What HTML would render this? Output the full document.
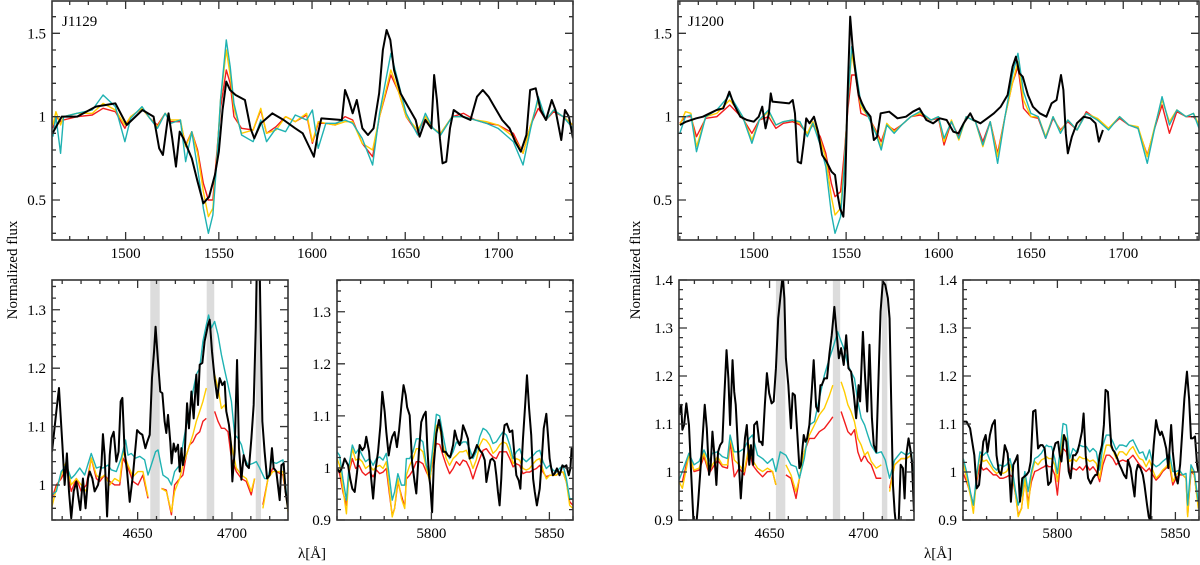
<!DOCTYPE html>
<html><head><meta charset="utf-8"><style>
html,body{margin:0;padding:0;background:#fff;}
svg{display:block;font-family:"Liberation Serif",serif;}
</style></head><body>
<svg id="fig" width="1200" height="565" viewBox="0 0 1200 565" xmlns="http://www.w3.org/2000/svg">
<text x="0" y="0" transform="translate(17,270) rotate(-90)" text-anchor="middle" font-size="15">Normalized flux</text>
<text x="0" y="0" transform="translate(640,270) rotate(-90)" text-anchor="middle" font-size="15">Normalized flux</text>
<text x="312" y="558" text-anchor="middle" font-size="15">λ[Å]</text>
<text x="938" y="558" text-anchor="middle" font-size="15">λ[Å]</text>
</svg>
<script>
// ---------- data ----------
const uvXTicks=[1500,1550,1600,1650,1700];
const uvYTicks=[0.5,1,1.5];
const heXTicks=[4650,4700];
const naXTicks=[5800,5850];
const opt1129YTicks=[1,1.1,1.2,1.3];
const opt1129RYTicks=[0.9,1,1.1,1.2,1.3];
const opt1200YTicks=[0.9,1,1.1,1.2,1.3,1.4];

// J1129 UV
const uv1129BlackLam=[1461,1465.7,1474,1484,1494.5,1500.6,1509,1515,1518,1520,1523,1525,1527,1529,1531,1532.5,1535.5,1538.6,1541.7,1544.8,1547.9,1550,1552,1554,1556,1559,1564,1567,1569,1572.5,1578.7,1584.8,1591,1595,1598,1601,1603,1605,1616,1617.7,1619.7,1621.8,1624,1627,1630,1633,1636,1638,1640,1642,1644,1647.5,1651.5,1655.6,1657.7,1660.8,1664,1665.5,1667,1668.6,1670,1672,1674,1676,1681,1685,1688.5,1691.6,1694.7,1697.8,1702,1706,1709,1712,1715,1717,1720,1722.6,1725.5,1728.6,1730.6,1733.7,1735.7,1737.8,1740];
const uv1129BlackFlux=[0.905,1.0,1.0,1.06,1.08,0.95,1.04,1.0,0.81,0.77,1.02,0.87,0.70,0.91,0.87,0.83,0.75,0.61,0.48,0.52,0.65,0.79,1.04,1.21,1.16,1.13,1.10,0.93,0.87,0.96,1.02,0.98,0.93,0.90,0.83,0.76,0.89,0.99,0.98,1.16,1.10,1.02,1.10,0.93,0.89,0.93,1.14,1.40,1.52,1.46,1.28,1.14,1.06,0.98,0.88,0.98,0.93,1.25,1.10,0.87,0.72,0.73,0.93,1.04,1.0,0.98,1.12,1.16,1.12,1.06,0.98,0.93,0.85,0.79,0.89,1.16,1.17,1.04,0.98,1.10,1.04,0.86,1.04,1.0,0.87];
const uv1129ModelLam=[1461,1462.6,1465.1,1466.7,1473.9,1482.1,1487.9,1494.5,1499.6,1502.7,1508.8,1513,1517.1,1521.2,1524.2,1529.4,1532.2,1535.5,1538.6,1541.7,1544.4,1546.8,1548.9,1550.9,1554,1556.1,1558.1,1562.2,1568.4,1572.5,1575.6,1580.7,1585.8,1591,1597.1,1600.2,1603.3,1607.4,1612.5,1617.7,1621.8,1626.9,1632.5,1636.2,1642.3,1646.4,1650.5,1656.7,1660.8,1664.9,1669,1675.2,1681.3,1687.5,1693.6,1699.8,1708,1713.2,1717.3,1721.4,1725.5,1729.6,1734.7,1740];
const uv1129Red=[0.93,1.0,0.97,0.98,1.0,1.01,1.05,1.03,0.93,1.0,1.05,0.99,0.95,1.02,0.97,0.97,0.83,0.91,0.8,0.6,0.5,0.5,0.78,1.05,1.28,1.2,1.0,0.93,0.92,1.04,0.9,0.94,1.0,0.97,1.01,0.84,0.96,0.96,0.95,1.0,0.98,0.84,0.76,1.0,1.25,1.15,1.0,0.9,1.0,0.93,0.9,1.0,1.02,0.98,0.96,0.95,0.9,0.78,0.95,1.05,0.98,1.03,1.0,0.95];
const uv1129Yellow=[0.95,1.03,0.95,1.0,1.02,1.02,1.08,1.04,0.95,1.0,1.05,0.99,0.94,1.02,0.98,0.98,0.82,0.91,0.78,0.55,0.40,0.45,0.75,1.1,1.4,1.25,1.05,0.9,0.92,1.05,0.9,0.92,1.0,0.97,1.02,0.85,0.97,0.96,0.95,0.97,0.97,0.84,0.80,1.0,1.28,1.15,1.0,0.92,1.0,0.93,0.9,1.0,1.0,0.98,0.97,0.95,0.88,0.78,0.95,1.1,0.98,1.04,1.0,0.95];
const uv1129Cyan=[0.88,1.0,0.78,1.0,1.02,1.04,1.13,1.06,0.85,0.99,1.06,0.99,0.93,1.02,0.96,0.98,0.73,0.91,0.69,0.45,0.30,0.41,0.73,1.1,1.46,1.3,1.08,0.89,0.85,0.98,0.85,0.93,0.91,1.01,0.98,1.04,0.81,0.96,0.96,0.98,0.96,0.87,0.71,1.02,1.38,1.2,1.02,0.89,1.02,0.93,0.89,1.0,1.0,0.98,0.96,0.93,0.85,0.71,0.93,1.12,0.98,1.04,1.0,0.93];

// J1200 UV
const uv1200BlackLam=[1460,1463.4,1468.9,1472.5,1476.2,1479.9,1483.5,1486.8,1489,1492.7,1496.3,1500,1502.7,1504.6,1506.4,1508.2,1509.2,1510.1,1519.2,1521.1,1522.3,1523.8,1525.6,1527.1,1528.4,1530.2,1532.6,1534.8,1537,1539.4,1542.1,1544,1545.4,1546.7,1548.5,1549.5,1550.7,1552.2,1553.5,1555,1556.8,1558.6,1560.4,1563.2,1565,1566.8,1568.7,1573.3,1577.8,1582.4,1586.1,1589.7,1593.4,1597.1,1600.7,1604.4,1608,1610.8,1613.6,1617.2,1619,1622.7,1626.4,1630,1633.7,1637.4,1640.1,1641.9,1643.8,1645.6,1648.4,1651.1,1654.8,1658.4,1661.2,1663.9,1666.3,1667.6,1668.9,1670,1672.2,1674.9,1678.6,1682.2,1685,1686.8,1689];
const uv1200BlackFlux=[0.95,0.97,0.99,1.0,1.02,1.04,1.05,1.15,1.08,1.0,0.98,0.97,1.0,1.06,0.93,1.02,1.14,1.09,1.08,1.10,1.02,0.73,0.72,0.85,0.99,0.96,1.0,0.91,0.77,0.73,0.67,0.65,0.53,0.45,0.40,0.59,1.10,1.60,1.42,1.27,1.13,1.08,1.04,1.0,0.86,0.88,1.02,1.03,0.99,1.0,1.03,1.05,0.98,0.96,0.99,0.98,0.91,0.90,0.96,1.02,0.98,0.96,0.99,1.02,1.06,1.13,1.30,1.36,1.26,1.24,1.13,1.06,1.02,1.0,1.08,1.10,1.25,1.16,0.90,0.78,0.88,0.96,1.0,0.99,0.96,0.85,0.92];
const uv1200ModelLam=[1460,1463,1466,1469,1474,1480,1487,1494,1499,1503,1508,1512,1516,1521,1525,1529,1532,1536,1539,1542,1544,1547,1549,1551,1553,1555,1558,1562,1566,1569,1572,1576,1580,1585,1590,1596,1600,1603,1607,1611,1615,1620,1624,1628,1632,1636,1640,1643,1646,1650,1654,1658,1662,1666,1670,1675,1680,1686,1692,1698,1703,1708,1713,1717,1721,1725,1729,1734,1738,1741];
const uv1200Red=[0.96,1.0,1.0,0.88,0.99,1.0,1.07,0.99,0.9,0.98,1.0,0.93,0.96,0.97,0.95,0.9,0.95,0.88,0.78,0.6,0.52,0.55,0.78,1.05,1.25,1.25,1.02,1.0,0.92,0.85,0.95,0.92,0.95,1.0,1.01,0.98,0.99,0.83,0.97,0.88,1.0,0.97,0.85,0.97,0.78,1.0,1.2,1.3,1.05,1.0,0.99,0.87,0.99,0.92,0.97,0.92,1.03,0.98,0.93,0.99,0.95,0.93,0.77,0.93,1.07,0.9,1.03,1.0,1.0,0.96];
const uv1200Yellow=[0.95,1.03,1.02,0.82,1.0,1.02,1.1,1.0,0.86,0.98,1.03,0.95,0.97,0.98,0.96,0.9,0.97,0.86,0.75,0.52,0.41,0.45,0.72,1.1,1.38,1.26,1.06,1.0,0.91,0.82,0.96,0.91,0.95,1.0,1.02,0.98,1.0,0.85,0.98,0.86,1.0,0.97,0.82,0.97,0.76,1.0,1.2,1.33,1.1,1.0,1.0,0.88,1.0,0.91,0.98,0.92,1.02,0.99,0.93,1.0,0.95,0.94,0.76,0.94,1.1,0.97,1.04,1.0,1.02,0.95];
const uv1200Cyan=[0.9,1.0,1.01,0.79,1.0,1.04,1.13,1.0,0.84,0.98,1.04,0.95,0.97,0.98,0.97,0.88,0.96,0.83,0.7,0.42,0.3,0.4,0.7,1.1,1.42,1.3,1.08,1.0,0.9,0.8,0.95,0.9,0.95,1.0,1.03,0.98,1.0,0.87,0.97,0.87,1.0,0.97,0.83,0.97,0.72,1.0,1.25,1.38,1.15,1.02,1.0,0.87,1.0,0.9,0.98,0.92,1.02,0.98,0.92,1.0,0.95,0.93,0.72,0.93,1.12,0.95,1.04,1.0,1.02,0.93];

// J1129 He II region
const he1129Bands=[[4656.7,4661.7],[4686.6,4690.6],[4712.6,4715.4]];
const he1129BlackLam=[4604.6,4606.9,4608.3,4610.1,4611.3,4612.5,4613.6,4614.8,4616.1,4617.5,4618.4,4619.6,4621.0,4622.4,4623.7,4624.6,4626.0,4627.2,4629.0,4630.8,4631.6,4632.5,4633.8,4635.2,4636.0,4637.3,4638.7,4639.9,4641.0,4641.9,4643.1,4644.4,4645.8,4647.5,4649.7,4651.1,4652.5,4654.1,4655.1,4656.4,4657.6,4658.7,4659.5,4660.8,4662.0,4663.1,4664.3,4665.2,4666.1,4667.3,4668.0,4669.1,4670.1,4671.4,4672.3,4673.2,4674.0,4674.9,4676.2,4677.2,4678.5,4679.7,4681.1,4682.0,4682.9,4684.3,4685.5,4687.3,4688.2,4689.4,4690.8,4692.2,4693.5,4694.9,4696.1,4697.0,4698.4,4699.5,4700.2,4701.4,4702.7,4703.7,4705.0,4706.2,4707.6,4709.0,4710.3,4711.5,4712.6,4713.3,4714.3,4715.0,4716.1,4717.3,4718.6,4720.0,4721.2,4722.1,4723.5,4725.3,4726.2,4727.4,4728.4,4729.7];
const he1129BlackFlux=[1.057,1.126,1.166,1.069,1.000,1.054,0.989,0.943,0.989,1.006,0.983,0.957,1.011,0.960,1.011,1.023,1.011,0.989,1.000,1.034,1.087,1.051,0.946,1.051,1.080,1.091,1.040,1.057,1.143,1.149,1.057,1.023,0.971,1.017,1.094,1.089,1.086,1.063,1.074,1.086,1.183,1.229,1.271,1.211,1.160,1.157,1.109,1.089,1.120,1.074,1.037,1.071,1.057,1.069,1.023,1.063,1.034,1.051,1.140,1.097,1.160,1.114,1.189,1.137,1.206,1.209,1.246,1.274,1.283,1.229,1.183,1.149,1.183,1.171,1.177,1.126,1.103,1.069,1.006,1.057,1.214,1.063,1.009,1.051,1.034,1.029,1.080,1.137,1.269,1.40,1.45,1.309,1.109,1.057,1.011,1.017,1.063,1.029,1.023,0.974,1.034,1.037,0.989,0.960];
const he1129ModelLam=[4604.6,4606.9,4609.5,4612.2,4614.8,4617.5,4620.1,4622.8,4625.4,4628.1,4629.9,4632.5,4635.2,4637.8,4640.5,4642.2,4644.9,4647.5,4650.2,4652.8,4655.5,4659,4662.6,4665.2,4667.9,4669.6,4672.3,4674.0,4675.8,4677.6,4679.3,4681.1,4682.9,4684.6,4686.4,4688.6,4690.8,4692.6,4694.4,4696.1,4697.9,4699.7,4702.3,4705.0,4707.6,4710.2,4712.0,4714,4716.4,4719.1,4721.7,4723.5,4727.0,4729.7];
const he1129Yellow=[0.963,0.994,1.017,1.040,1.000,1.011,1.000,0.989,1.046,1.017,1.011,1.017,1.000,1.011,1.006,1.057,1.034,1.014,1.023,1.023,0.980,null,0.994,0.989,0.954,0.989,1.011,1.034,1.051,1.069,1.086,1.109,1.126,1.143,1.166,null,1.189,1.166,1.131,1.137,1.114,1.069,1.029,1.017,1.011,0.989,1.011,null,0.960,1.011,1.023,1.023,1.023,0.954];
const he1129Red=[0.977,1.0,1.011,1.029,0.989,1.011,0.989,1.0,1.046,1.011,1.006,1.017,1.006,1.0,1.0,1.046,1.029,1.006,1.0,1.017,0.977,null,0.994,0.991,0.949,1.0,1.011,1.017,1.051,1.069,1.074,1.086,1.091,1.109,1.114,null,1.126,1.109,1.097,1.097,1.091,1.046,1.023,1.011,1.006,0.983,1.011,null,0.966,1.011,1.029,1.023,1.017,0.960];
const he1129CyanLam=[4604.6,4606.9,4609.5,4612.2,4614.8,4616.6,4619.3,4621.9,4625.4,4628.1,4629.9,4631.6,4634.3,4636.0,4638.7,4641.3,4643.6,4644.9,4646.6,4648.9,4651.1,4653.7,4655.5,4657.2,4659.5,4660.8,4663.4,4666.1,4667.9,4669.6,4672.3,4674.0,4675.8,4677.6,4679.3,4681.1,4682.9,4684.6,4686.4,4687.6,4689.1,4690.8,4692.6,4694.4,4696.1,4697.9,4699.7,4701.4,4703.2,4705.0,4706.7,4708.5,4711.1,4712.9,4714.7,4717.3,4719.1,4720.9,4723.5,4727.0,4729.7];
const he1129Cyan=[0.983,0.989,1.023,1.034,1.011,1.017,1.029,1.017,1.054,1.029,1.031,1.029,1.034,1.026,1.023,1.046,1.077,1.051,1.054,1.046,1.049,1.043,1.017,1.034,1.057,1.060,1.017,1.011,1.0,1.023,1.034,1.069,1.103,1.126,1.160,1.189,1.200,1.246,1.274,1.291,1.269,1.280,1.257,1.223,1.197,1.171,1.143,1.086,1.080,1.069,1.046,1.034,1.037,1.040,1.029,1.011,1.011,1.040,1.037,1.043,0.960];

// J1129 5800 region
const na1129BlackLam=[5760.0,5761.1,5762.3,5763.2,5764.7,5765.6,5766.5,5767.5,5768.5,5769.6,5770.7,5771.7,5772.4,5773.6,5774.5,5775.3,5776.2,5777.4,5778.4,5779.2,5780.2,5780.9,5781.9,5782.6,5783.4,5784.4,5785.4,5786.3,5787.3,5788.2,5789.1,5789.7,5790.8,5791.8,5792.9,5793.6,5794.7,5795.7,5796.7,5797.6,5798.3,5799.0,5799.5,5800.3,5801.0,5802.1,5803.2,5804.2,5804.9,5806.0,5807.0,5808.0,5809.2,5809.9,5810.8,5812.0,5812.7,5813.4,5814.5,5815.5,5816.2,5817.3,5818.3,5819.3,5820.5,5821.6,5822.6,5823.3,5824.0,5825.0,5825.8,5826.8,5827.5,5828.2,5828.9,5829.6,5830.3,5831.0,5832.0,5833.2,5834.3,5835.3,5836.0,5837.0,5837.7,5838.8,5839.9,5840.5,5841.4,5842.3,5843.1,5843.8,5844.7,5845.9,5846.6,5847.6,5848.7,5849.4,5850.1,5850.8,5851.5,5852.2,5853.2,5854.3,5855.5,5856.2,5857.2,5858.2,5858.9,5859.4,5860.0];
const na1129BlackFlux=[0.999,0.992,1.002,1.018,1.005,0.979,0.960,0.954,0.992,1.044,1.034,1.040,1.060,1.031,0.979,0.941,0.992,1.031,1.082,1.146,1.108,1.069,1.024,1.044,1.060,1.069,1.040,1.072,1.121,1.159,1.140,1.117,1.101,1.012,0.973,0.951,1.031,1.088,1.101,1.108,1.037,0.986,0.967,0.915,1.005,1.066,1.092,1.069,1.031,1.031,1.024,1.021,1.044,1.072,1.056,1.044,1.056,1.082,1.069,1.056,1.018,1.021,1.031,1.044,1.034,1.028,1.015,0.973,0.992,1.015,1.018,1.012,0.986,0.954,0.928,0.979,1.056,1.082,1.085,1.069,1.072,1.018,0.986,0.976,0.960,1.056,1.133,1.178,1.114,1.063,0.979,0.954,0.928,0.960,1.005,1.076,1.104,1.063,1.018,0.999,0.986,0.989,0.999,0.986,1.005,1.002,1.005,0.986,0.999,1.037,1.018];
const naModel1129Lam=[5760.0,5761.1,5762.5,5764.0,5765.1,5766.5,5767.9,5769.3,5770.7,5772.1,5773.8,5775.3,5776.7,5778.1,5779.5,5780.9,5782.3,5783.4,5784.4,5785.8,5787.3,5788.7,5789.4,5790.8,5792.2,5793.6,5795.0,5796.4,5797.9,5799.3,5800.7,5802.1,5803.5,5804.9,5806.3,5807.7,5809.2,5810.6,5812.0,5813.4,5814.8,5816.2,5817.6,5819.0,5820.5,5821.9,5823.3,5824.7,5826.1,5827.5,5828.9,5830.3,5831.8,5833.2,5834.6,5836.0,5837.4,5838.8,5840.2,5841.6,5843.1,5844.5,5845.9,5847.3,5848.7,5850.1,5851.5,5852.9,5854.3,5855.8,5857.2,5858.6,5860.0];
const na1129Cyan=[1.031,1.024,0.979,0.938,1.005,1.044,1.028,1.037,1.024,1.012,1.018,1.005,1.018,1.021,1.015,1.028,0.979,0.938,0.954,0.989,0.967,0.967,1.018,1.018,1.031,1.056,1.056,1.050,1.005,0.986,1.044,1.103,1.100,1.063,1.031,1.018,1.031,1.050,1.044,1.050,1.050,1.037,1.018,1.031,1.060,1.076,1.072,1.063,1.047,1.050,1.060,1.069,1.063,1.044,1.018,1.031,1.037,1.018,1.012,1.018,1.024,1.031,1.034,1.012,0.999,1.005,0.996,0.992,0.999,1.005,0.979,0.941,0.941];
const na1129Yellow=[1.018,1.005,0.960,0.912,0.992,1.037,1.015,1.018,1.012,0.999,1.005,0.996,1.002,1.005,0.999,1.012,0.954,0.906,0.922,0.979,0.941,0.922,0.986,1.005,1.018,1.037,1.037,1.031,0.999,0.973,1.031,1.082,1.076,1.044,1.018,1.005,1.018,1.024,1.031,1.031,1.034,1.018,0.999,1.015,1.044,1.056,1.053,1.044,1.028,1.034,1.044,1.050,1.047,1.031,1.008,1.018,1.015,0.999,0.996,0.999,1.008,1.015,1.018,0.996,0.979,0.986,0.986,0.986,0.992,0.992,0.973,0.928,0.922];
const na1129Red=[0.999,0.989,0.954,0.928,0.992,1.018,0.999,1.005,0.992,0.986,0.992,0.983,0.996,0.989,0.992,0.999,0.947,0.909,0.922,0.973,0.947,0.925,0.979,0.986,0.996,1.012,1.012,1.008,0.992,0.979,1.018,1.047,1.045,1.024,1.005,0.989,0.999,1.012,1.005,1.015,1.012,0.999,0.979,0.999,1.018,1.034,1.037,1.028,1.021,1.018,1.031,1.031,1.031,1.018,1.002,1.008,1.005,0.989,0.992,0.992,0.996,0.999,1.005,0.992,0.983,0.986,0.986,0.986,0.992,0.992,0.973,0.935,0.928];

// J1200 He II region
const he1200Bands=[[4653.4,4658.4],[4683.7,4687.6],[4709.8,4712.7]];
const he1200BlackLam=[4601.8,4603.0,4603.6,4604.5,4605.7,4607.1,4608.4,4609.5,4610.7,4611.9,4613.4,4614.8,4615.5,4616.6,4617.8,4618.7,4619.6,4620.5,4621.7,4622.6,4623.7,4624.9,4625.8,4627.1,4628.1,4629.0,4630.3,4631.2,4632.0,4633.3,4634.7,4636.0,4636.9,4637.9,4639.2,4640.1,4641.3,4641.8,4643.3,4644.5,4645.4,4646.3,4647.5,4648.6,4649.8,4651.1,4652.2,4653.4,4654.6,4655.7,4657.0,4657.9,4658.7,4660.0,4661.4,4662.3,4663.5,4664.6,4665.9,4666.7,4668.2,4669.1,4670.0,4671.2,4672.4,4673.5,4674.8,4676.0,4677.1,4677.8,4679.2,4680.6,4681.9,4683.1,4684.5,4685.8,4686.9,4688.1,4689.5,4690.8,4692.0,4693.4,4694.9,4696.1,4697.4,4698.2,4699.7,4700.9,4702.0,4703.2,4704.5,4705.5,4706.8,4708.0,4709.1,4710.3,4711.6,4713.0,4713.9,4714.8,4715.7,4716.6,4717.5,4718.7,4719.8,4721.0,4721.9,4722.8,4724.0,4724.9,4725.8,4726.9];
const he1200BlackFlux=[1.119,1.140,1.088,1.098,1.143,1.098,0.987,0.897,0.876,0.931,1.015,1.098,1.140,1.091,0.994,1.015,1.084,1.042,0.973,1.042,1.056,1.063,1.147,1.254,1.195,1.098,1.233,1.167,1.140,1.042,0.945,1.022,1.070,1.098,1.015,1.056,1.015,1.098,1.105,1.063,1.063,1.056,1.140,1.206,1.164,1.143,1.147,1.216,1.320,1.362,1.41,1.362,1.237,1.181,1.091,1.164,1.160,1.091,1.008,1.015,1.077,1.063,1.070,1.098,1.164,1.233,1.136,1.126,1.181,1.181,1.195,1.195,1.247,1.285,1.344,1.285,1.237,1.258,1.223,1.285,1.216,1.209,1.160,1.112,1.181,1.147,1.292,1.195,1.126,1.265,1.112,1.056,1.042,1.195,1.334,1.397,1.390,1.362,1.320,1.140,0.973,0.917,0.883,0.890,1.015,1.008,0.945,1.035,1.070,1.049,1.022,0.917];
const he1200ModelLam=[4601.8,4603.6,4607.1,4609.8,4612.5,4615.1,4617.8,4619.6,4622.3,4624.9,4627.6,4629.0,4631.2,4633.8,4636.5,4639.2,4640.9,4643.6,4646.3,4648.9,4651.6,4653.4,4656,4658.7,4661.4,4664.1,4665.9,4668.5,4671.2,4673.9,4676.5,4679.2,4681.9,4683.7,4686,4688.1,4689.9,4691.7,4693.4,4695.2,4697.0,4698.8,4700.6,4702.3,4704.1,4706.8,4709.5,4711.5,4713.9,4716.6,4720.1,4722.8,4725.5,4726.9];
const he1200Yellow=[0.980,0.966,1.035,1.004,1.008,1.039,1.001,1.015,1.032,1.015,1.015,1.074,1.025,1.015,1.001,1.056,1.025,1.008,1.001,1.008,1.001,0.973,null,1.015,0.994,0.959,0.987,1.042,1.077,1.098,1.119,1.133,1.160,1.181,null,1.188,1.167,1.140,1.126,1.105,1.070,1.056,1.035,1.042,1.022,1.008,1.015,null,0.959,1.015,1.028,1.028,1.035,0.952];
const he1200Red=[0.980,0.980,1.039,1.001,1.004,1.032,0.997,1.008,1.025,1.011,1.008,1.063,0.990,1.008,0.994,1.049,1.015,1.001,0.990,1.001,1.001,0.973,null,0.994,0.987,0.945,0.987,1.042,1.070,1.070,1.084,1.091,1.105,1.115,null,1.126,1.105,1.084,1.077,1.088,1.042,1.022,1.035,1.022,1.015,0.987,0.987,null,0.966,1.015,1.028,1.028,1.035,0.959];
const he1200CyanLam=[4601.8,4603.6,4607.1,4609.8,4612.5,4615.1,4617.8,4619.6,4622.3,4624.9,4627.6,4629.0,4631.2,4633.8,4636.5,4639.2,4640.9,4643.6,4646.3,4648.9,4651.6,4653.4,4655.7,4658.7,4661.4,4664.1,4665.9,4668.5,4671.2,4673.9,4676.5,4679.2,4681.9,4683.7,4686.3,4688.1,4689.9,4691.7,4693.4,4695.2,4697.0,4698.8,4700.6,4702.3,4704.1,4706.8,4709.5,4711.6,4713.9,4716.6,4720.1,4722.8,4725.5,4726.9];
const he1200Cyan=[0.983,1.001,1.039,1.015,1.022,1.046,1.022,1.039,1.042,1.032,1.028,1.077,1.042,1.042,1.049,1.070,1.077,1.035,1.028,1.018,1.028,1.001,1.042,1.035,1.015,1.011,0.987,1.028,1.098,1.105,1.153,1.202,1.237,1.258,1.292,1.272,1.254,1.223,1.209,1.195,1.147,1.112,1.098,1.077,1.056,1.039,1.042,1.025,0.987,1.025,1.042,1.035,1.042,0.980];

// J1200 5800 region
const na1200BlackLam=[5760.1,5761.5,5763.0,5763.9,5764.8,5765.8,5766.8,5767.9,5768.6,5769.6,5770.4,5771.4,5772.4,5773.5,5774.2,5775.2,5776.1,5776.8,5777.7,5778.9,5779.6,5780.3,5781.3,5782.3,5783.1,5784.1,5785.1,5785.9,5786.9,5787.9,5788.7,5789.7,5790.7,5791.8,5792.8,5793.7,5794.6,5795.4,5796.1,5797.2,5798.2,5799.2,5800.3,5801.0,5801.7,5802.8,5803.8,5804.8,5805.6,5806.6,5807.6,5808.5,5809.4,5810.4,5811.1,5812.0,5813.0,5814.1,5815.1,5816.1,5816.9,5817.9,5818.9,5819.7,5820.4,5821.4,5822.1,5822.8,5823.5,5824.2,5825.4,5826.3,5827.0,5828.2,5829.2,5829.9,5831.0,5832.0,5832.7,5833.4,5834.1,5835.2,5836.2,5836.9,5838.0,5838.7,5839.4,5840.0,5840.8,5841.8,5842.5,5843.5,5844.2,5845.1,5846.1,5847.0,5848.2,5848.9,5849.9,5851.0,5852.0,5853.0,5853.8,5854.9,5855.8,5856.6,5857.3,5858.3,5859.2,5859.7];
const na1200BlackFlux=[1.105,1.105,1.091,1.063,1.035,0.966,0.973,1.028,1.063,1.077,1.042,1.077,1.098,1.108,1.035,1.001,0.994,1.015,1.056,1.039,1.001,0.938,1.015,1.025,1.035,0.938,0.987,0.990,0.994,1.001,1.022,1.126,1.129,1.049,1.056,1.056,1.049,1.008,0.973,0.980,1.042,1.060,1.063,1.035,1.022,1.077,1.063,1.001,0.987,1.035,1.035,1.042,1.060,1.084,1.122,1.035,0.987,0.976,0.987,0.994,0.994,1.035,1.056,1.098,1.171,1.167,1.112,1.056,1.046,1.042,1.028,1.015,1.008,0.994,0.987,1.025,1.008,0.973,0.949,1.001,1.015,1.008,0.994,0.973,0.931,0.907,0.897,1.001,1.056,1.108,1.091,1.077,1.084,1.070,1.049,1.008,1.098,1.042,0.994,0.976,1.015,1.091,1.153,1.209,1.153,1.070,1.070,1.074,1.015,1.001];
const naModel1200Lam=[5760.1,5761.5,5763.4,5764.4,5765.8,5767.2,5768.6,5770.0,5771.4,5772.8,5774.2,5775.6,5777.0,5778.5,5779.9,5780.8,5782.3,5783.4,5784.8,5786.2,5787.6,5789.0,5790.4,5791.8,5793.2,5794.4,5795.4,5796.3,5797.5,5798.9,5800.0,5801.4,5802.4,5803.8,5805.2,5806.6,5808.0,5809.4,5810.8,5812.3,5813.7,5815.1,5816.5,5817.9,5819.3,5820.7,5822.1,5823.5,5824.9,5826.3,5827.7,5829.2,5830.6,5832.0,5833.4,5834.8,5836.2,5837.6,5839.0,5840.4,5841.8,5843.2,5844.6,5846.1,5847.5,5848.9,5850.3,5851.7,5853.1,5854.5,5855.2,5856.6,5858.0,5859.7];
const na1200Cyan=[1.028,1.001,0.952,0.931,0.994,1.042,1.035,1.042,1.025,1.011,1.004,1.015,1.011,1.015,1.028,1.008,0.959,0.931,0.952,1.001,0.959,1.001,1.028,1.032,1.039,1.049,1.056,1.053,1.053,1.028,0.997,1.056,1.101,1.098,1.028,1.049,1.042,1.056,1.053,1.053,1.042,1.049,1.042,1.004,1.056,1.077,1.077,1.063,1.046,1.056,1.056,1.053,1.063,1.067,1.053,1.039,1.042,1.025,1.046,1.018,1.011,1.015,1.022,1.028,1.039,1.001,1.001,1.004,0.994,0.997,0.931,1.015,1.001,0.938];
const na1200Yellow=[1.018,0.987,0.945,0.914,0.987,1.035,1.022,1.025,1.015,1.004,0.997,1.001,0.997,1.001,1.015,1.001,0.952,0.907,0.924,0.987,0.924,0.994,1.022,1.015,1.025,1.028,1.032,1.028,1.028,1.015,0.980,1.042,1.077,1.070,1.022,1.028,1.022,1.032,1.028,1.028,1.022,1.025,1.018,0.987,1.028,1.056,1.056,1.046,1.028,1.042,1.042,1.035,1.046,1.053,1.039,1.028,1.025,1.011,1.025,1.004,0.987,0.994,1.004,1.011,1.022,0.980,0.994,1.001,0.994,0.987,0.907,1.008,0.994,0.924];
const na1200Red=[0.997,0.980,0.952,0.931,0.980,1.015,1.004,1.008,1.001,0.994,0.994,0.987,0.987,0.990,0.994,0.990,0.952,0.910,0.924,0.983,0.938,0.980,1.001,1.004,1.008,1.011,1.015,1.011,1.011,0.994,0.952,1.028,1.049,1.042,1.001,1.008,1.004,1.011,1.004,1.015,1.004,1.011,1.001,0.980,1.015,1.035,1.035,1.028,1.015,1.022,1.025,1.022,1.028,1.035,1.025,1.015,1.008,1.001,1.008,0.994,0.983,0.990,1.001,1.008,1.015,0.973,0.987,0.994,0.994,0.987,0.910,1.001,0.994,0.928];

// ---------- rendering ----------
const NS='http://www.w3.org/2000/svg';
const svg=document.getElementById('fig');
const COL={red:'#f21d1d',yellow:'#ffcc00',cyan:'#1fb2b2',black:'#000'};

const panels=[
 {name:'j1129-uv-panel',x0:52,x1:573,y0:1,y1:240,xmin:1460.5,xmax:1740,ymin:0.26,ymax:1.694,xMaj:50,xMin:10,yMaj:0.5,yMin:0.1,xt:uvXTicks,yt:uvYTicks,title:'J1129',
  bands:[],models:[[uv1129ModelLam,uv1129Red,'red'],[uv1129ModelLam,uv1129Yellow,'yellow'],[uv1129ModelLam,uv1129Cyan,'cyan']],obs:[uv1129BlackLam,uv1129BlackFlux]},
 {name:'j1200-uv-panel',x0:678,x1:1199,y0:1,y1:240,xmin:1459,xmax:1741,ymin:0.26,ymax:1.694,xMaj:50,xMin:10,yMaj:0.5,yMin:0.1,xt:uvXTicks,yt:uvYTicks,title:'J1200',
  bands:[],models:[[uv1200ModelLam,uv1200Red,'red'],[uv1200ModelLam,uv1200Yellow,'yellow'],[uv1200ModelLam,uv1200Cyan,'cyan']],obs:[uv1200BlackLam,uv1200BlackFlux]},
 {name:'j1129-heii-panel',x0:52,x1:288,y0:280,y1:520,xmin:4604.6,xmax:4729.7,ymin:0.94,ymax:1.351,xMaj:50,xMin:10,yMaj:0.1,yMin:0.02,xt:heXTicks,yt:opt1129YTicks,
  bands:he1129Bands,models:[[he1129ModelLam,he1129Red,'red'],[he1129ModelLam,he1129Yellow,'yellow'],[he1129CyanLam,he1129Cyan,'cyan']],obs:[he1129BlackLam,he1129BlackFlux]},
 {name:'j1129-5800-panel',x0:337,x1:573,y0:280,y1:520,xmin:5760,xmax:5860,ymin:0.9,ymax:1.361,xMaj:50,xMin:10,yMaj:0.1,yMin:0.02,xt:naXTicks,yt:opt1129RYTicks,
  bands:[],models:[[naModel1129Lam,na1129Red,'red'],[naModel1129Lam,na1129Yellow,'yellow'],[naModel1129Lam,na1129Cyan,'cyan']],obs:[na1129BlackLam,na1129BlackFlux]},
 {name:'j1200-heii-panel',x0:679,x1:914,y0:280,y1:520,xmin:4601.8,xmax:4726.9,ymin:0.9,ymax:1.4,xMaj:50,xMin:10,yMaj:0.1,yMin:0.02,xt:heXTicks,yt:opt1200YTicks,
  bands:he1200Bands,models:[[he1200ModelLam,he1200Red,'red'],[he1200ModelLam,he1200Yellow,'yellow'],[he1200CyanLam,he1200Cyan,'cyan']],obs:[he1200BlackLam,he1200BlackFlux]},
 {name:'j1200-5800-panel',x0:963,x1:1199,y0:280,y1:520,xmin:5760,xmax:5860,ymin:0.9,ymax:1.4,xMaj:50,xMin:10,yMaj:0.1,yMin:0.02,xt:naXTicks,yt:opt1200YTicks,
  bands:[],models:[[naModel1200Lam,na1200Red,'red'],[naModel1200Lam,na1200Yellow,'yellow'],[naModel1200Lam,na1200Cyan,'cyan']],obs:[na1200BlackLam,na1200BlackFlux]}
];

function mk(tag,attrs,parent){const e=document.createElementNS(NS,tag);for(const k in attrs)e.setAttribute(k,attrs[k]);(parent||svg).appendChild(e);return e;}
function sx(p,v){return p.x0+(v-p.xmin)/(p.xmax-p.xmin)*(p.x1-p.x0);}
function sy(p,v){return p.y1-(v-p.ymin)/(p.ymax-p.ymin)*(p.y1-p.y0);}
function pathD(p,lam,flux){let d='',pen=false;for(let i=0;i<lam.length;i++){const f=flux[i];if(f===null||f===undefined){pen=false;continue;}d+=(pen?'L':'M')+sx(p,lam[i]).toFixed(2)+' '+sy(p,f).toFixed(2);pen=true;}return d;}

panels.forEach((p,pi)=>{
  const g=mk('g',{});
  
  
  const cp=mk('clipPath',{id:'clip'+pi},g);
  mk('rect',{x:p.x0,y:p.y0,width:p.x1-p.x0,height:p.y1-p.y0},cp);
  const plot=mk('g',{'clip-path':'url(#clip'+pi+')'},g);
  
  
  p.bands.forEach((b)=>{
    const r=mk('rect',{x:sx(p,b[0]),y:p.y0,width:sx(p,b[1])-sx(p,b[0]),height:p.y1-p.y0,fill:'#dcdcdc'},plot);
    
    
  });
  p.models.forEach((m)=>{
    const l=mk('path',{d:pathD(p,m[0],m[1]),fill:'none',stroke:COL[m[2]],'stroke-width':1.4,'stroke-linejoin':'round'},plot);
    
    
  });
  const ob=mk('path',{d:pathD(p,p.obs[0],p.obs[1]),fill:'none',stroke:'#000','stroke-width':2,'stroke-linejoin':'round'},plot);
  
  
  // ticks
  const tk=mk('g',{stroke:'#333','stroke-width':1.3},g);
  
  
  let d='';
  const x0i=Math.ceil(p.xmin/p.xMin-1e-6),x1i=Math.floor(p.xmax/p.xMin+1e-6);
  for(let k=x0i;k<=x1i;k++){const v=k*p.xMin;const maj=Math.abs(v/p.xMaj-Math.round(v/p.xMaj))<1e-6;const L=maj?8:4;const X=sx(p,v);
    d+='M'+X+' '+p.y1+'v'+(-L)+'M'+X+' '+p.y0+'v'+L;}
  const y0i=Math.ceil(p.ymin/p.yMin-1e-6),y1i=Math.floor(p.ymax/p.yMin+1e-6);
  for(let k=y0i;k<=y1i;k++){const v=k*p.yMin;const r=v/p.yMaj;const maj=Math.abs(r-Math.round(r))<1e-6;const L=maj?8:4;const Y=sy(p,v);
    d+='M'+p.x0+' '+Y+'h'+L+'M'+p.x1+' '+Y+'h'+(-L);}
  mk('path',{d:d,fill:'none'},tk);
  const fr=mk('rect',{x:p.x0,y:p.y0,width:p.x1-p.x0,height:p.y1-p.y0,fill:'none',stroke:'#333','stroke-width':1.6},g);
  
  
  p.xt.forEach((v)=>{
    const t=mk('text',{x:sx(p,v),y:p.y1+18,'text-anchor':'middle','font-size':15},g);
    
    
    t.textContent=String(v);
  });
  p.yt.forEach((v)=>{
    const t=mk('text',{x:p.x0-6,y:sy(p,v)+5,'text-anchor':'end','font-size':15},g);
    
    
    t.textContent=String(v);
  });
  if(p.title){
    const t=mk('text',{x:p.x0+10,y:p.y0+25,'font-size':15},g);
    
    
    t.textContent=p.title;
  }
});
</script>
</body></html>
